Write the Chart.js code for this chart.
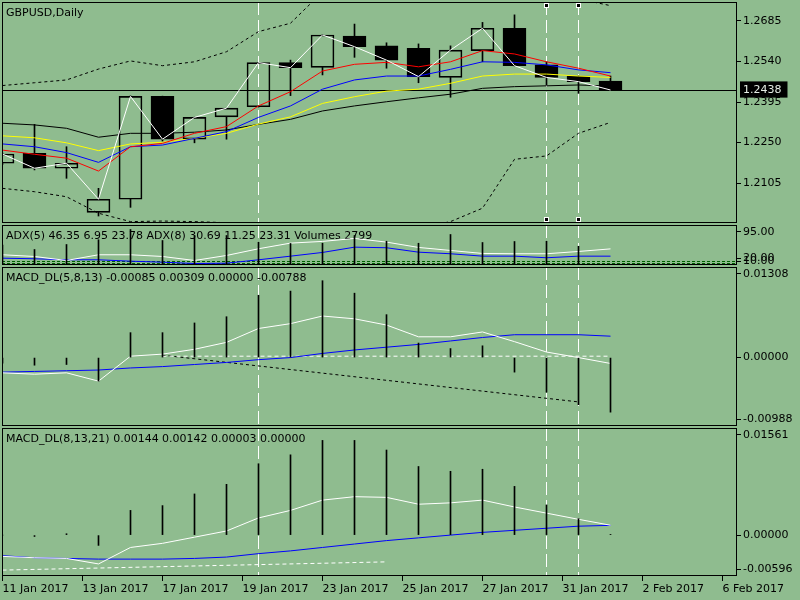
<!DOCTYPE html>
<html>
<head>
<meta charset="utf-8">
<title>GBPUSD,Daily</title>
<script src="https://cdn.jsdelivr.net/npm/chart.js@4.4.1/dist/chart.umd.min.js"></script>
<style>
  html, body { margin: 0; padding: 0; background: #8fbc8f; }
  body { width: 800px; height: 600px; position: relative; overflow: hidden; }
  canvas { position: absolute; left: 0; }
</style>
</head>
<body>
<canvas id="main" width="800" height="225" style="top:0"></canvas>
<canvas id="adx" width="800" height="42" style="top:224px"></canvas>
<canvas id="macd1" width="800" height="163" style="top:265px"></canvas>
<canvas id="macd2" width="800" height="173" style="top:427px"></canvas>
<script>
// price bars (20 daily candles)
const opens  = [1.2176, 1.2211, 1.2158, 1.2000, 1.2047, 1.2415, 1.2262, 1.2342, 1.2378, 1.2536, 1.2519, 1.2631, 1.2596, 1.2587, 1.2483, 1.2579, 1.2659, 1.2528, 1.2488, 1.2470];
const highs  = [1.2212, 1.2315, 1.2235, 1.2086, 1.2417, 1.2416, 1.2341, 1.2373, 1.2537, 1.2545, 1.2636, 1.2674, 1.2607, 1.2603, 1.2596, 1.2680, 1.2707, 1.2539, 1.2489, 1.2488];
const lows   = [1.2172, 1.2152, 1.2122, 1.1987, 1.2018, 1.2255, 1.2249, 1.2262, 1.2377, 1.2418, 1.2492, 1.2555, 1.2516, 1.2464, 1.2412, 1.2539, 1.2524, 1.2456, 1.2426, 1.2437];
const closes = [1.2209, 1.2158, 1.2176, 1.2047, 1.2415, 1.2262, 1.2340, 1.2373, 1.2536, 1.2518, 1.2635, 1.2593, 1.2545, 1.2486, 1.2581, 1.2659, 1.2525, 1.2483, 1.2468, 1.2438];

// moving averages and bands
const maRed    = [1.2223, 1.2208, 1.2194, 1.2148, 1.2235, 1.2247, 1.2283, 1.2307, 1.2381, 1.2432, 1.2506, 1.2530, 1.2537, 1.2521, 1.2539, 1.2579, 1.2567, 1.2539, 1.2516, 1.2488];
const maBlue   = [1.2245, 1.2235, 1.2214, 1.2179, 1.2235, 1.2241, 1.2265, 1.2289, 1.2340, 1.2381, 1.2441, 1.2474, 1.2488, 1.2488, 1.2512, 1.2539, 1.2537, 1.2528, 1.2510, 1.2500];
const maYellow = [1.2274, 1.2267, 1.2249, 1.2221, 1.2245, 1.2251, 1.2265, 1.2283, 1.2316, 1.2342, 1.2390, 1.2414, 1.2434, 1.2441, 1.2462, 1.2488, 1.2495, 1.2495, 1.2488, 1.2483];
const maBlack  = [1.2319, 1.2313, 1.2301, 1.2269, 1.2283, 1.2283, 1.2287, 1.2295, 1.2315, 1.2333, 1.2363, 1.2381, 1.2396, 1.2410, 1.2423, 1.2444, 1.2450, 1.2453, 1.2456, 1.2452];
const bandUpper = [1.2454, 1.2464, 1.2474, 1.2513, 1.2542, 1.2525, 1.2539, 1.2575, 1.2647, 1.2677, 1.2789, 1.2814, 1.2814, 1.2803, 1.2796, 1.2796, 1.2789, 1.2778, 1.2764, 1.2740];
const bandLower = [1.2086, 1.2074, 1.2056, 1.1997, 1.1967, 1.1969, 1.1967, 1.1963, 1.1944, 1.1930, 1.1919, 1.1919, 1.1930, 1.1944, 1.1967, 1.2015, 1.2190, 1.2202, 1.2283, 1.2322];

// ADX / volumes pane
const volumes = [80000, 62000, 82000, 101000, 142000, 98000, 118000, 118000, 91000, 86000, 87000, 118000, 95000, 87000, 122000, 90000, 94000, 95000, 75000, 2799];
const adx5 = [29.4, 24.5, 13.0, 29.4, 29.4, 24.5, 13.0, 27.4, 46.7, 62.9, 67.8, 76.4, 65.8, 50.5, 41.8, 33.2, 32.3, 32.3, 38.9, 46.35];
const adx8 = [19.6, 17.9, 15.0, 15.0, 11.0, 8.1, 4.3, 5.2, 15.0, 25.4, 36.1, 51.3, 49.6, 36.9, 32.3, 25.4, 25.4, 20.8, 25.4, 25.4];
const adxLevels = [10, 3.5];

// MACD_DL(5,8,13)
const macd1Hist   = [-0.0008, -0.0011, -0.0010, -0.0034, 0.0036, 0.0036, 0.0050, 0.0059, 0.0090, 0.0096, 0.0111, 0.0093, 0.0062, 0.0021, 0.0013, 0.0017, -0.0021, -0.0050, -0.0068, -0.00788];
const macd1Main   = [-0.0022, -0.0024, -0.0022, -0.0034, 0.0002, 0.0005, 0.0012, 0.0022, 0.0042, 0.0049, 0.0060, 0.0056, 0.0047, 0.0030, 0.0030, 0.0037, 0.0023, 0.0008, 0.0000, -0.00085];
const macd1Signal = [-0.0021, -0.0020, -0.0019, -0.0018, -0.0015, -0.0013, -0.0010, -0.0007, -0.0003, 0.0000, 0.0006, 0.0011, 0.0015, 0.0019, 0.0024, 0.0029, 0.0033, 0.0033, 0.0033, 0.00309];
const macd1LevelBars = [5, 19];
const macd1LevelVals = [0.0002, 0.0002];
const macd1TrendBars = [5, 18];
const macd1TrendVals = [0.00035, -0.0064];

// MACD_DL(8,13,21)
const macd2Hist   = [0.0000, -0.0002, 0.0002, -0.0015, 0.0036, 0.0043, 0.0060, 0.0074, 0.0104, 0.0117, 0.0138, 0.0138, 0.0124, 0.0100, 0.0093, 0.0096, 0.0071, 0.0044, 0.0024, 0.0001];
const macd2Main   = [-0.0031, -0.0033, -0.0034, -0.0042, -0.0018, -0.0012, -0.0003, 0.0006, 0.0025, 0.0036, 0.0051, 0.0056, 0.0055, 0.0045, 0.0047, 0.0051, 0.0041, 0.0032, 0.0023, 0.00144];
const macd2Signal = [-0.0030, -0.0033, -0.0034, -0.0035, -0.0035, -0.0035, -0.0034, -0.0032, -0.0027, -0.0023, -0.0018, -0.0013, -0.0008, -0.0004, 0.0000, 0.0004, 0.0007, 0.0010, 0.0013, 0.00142];
const macd2LevelBars = [0, 12];
const macd2LevelVals = [-0.0051, -0.0039];

// axes
const tickLabels = ['11 Jan 2017', '13 Jan 2017', '17 Jan 2017', '19 Jan 2017', '23 Jan 2017', '25 Jan 2017', '27 Jan 2017', '31 Jan 2017', '2 Feb 2017', '6 Feb 2017'];
const priceTicks = [1.2685, 1.2540, 1.2395, 1.2250, 1.2105];
const adxTicks = [95, 20, 10];
const macd1Ticks = [0.01308, 0, -0.00988];
const macd2Ticks = [0.01561, 0, -0.00596];
const markedBars = [8, 17, 18];
const selectedBars = [17, 18];

const lastPrice = closes[closes.length - 1];

const FONT = '"DejaVu Sans", Verdana, sans-serif';
Chart.defaults.font.family = FONT;
Chart.defaults.font.size = 11;
Chart.defaults.color = '#000';

const xMin = -1 / 64, xMax = xMin + 735 / 32;

const pts = arr => arr.map((v, i) => ({ x: i, y: v }));
const seg = (bars, vals) => bars.map((b, k) => ({ x: b, y: vals[k] }));
const line = (data, color, extra) => Object.assign({
  type: 'line', data, borderColor: color, borderWidth: 1, pointRadius: 0, tension: 0, fill: false
}, extra);
const sticks = (data, extra) => Object.assign({
  type: 'bar', data, backgroundColor: '#000', borderWidth: 0, barThickness: 1, grouped: false
}, extra);

// draws level lines, marked verticals, the pane title and frame
const panePlugin = {
  id: 'pane',
  beforeDatasetsDraw(chart, args, o) {
    const { ctx, chartArea: a } = chart;
    const xs = chart.scales.x, ys = chart.scales.y;
    ctx.save();
    ctx.beginPath();
    ctx.rect(a.left, a.top, a.width, a.height);
    ctx.clip();
    ctx.lineWidth = 1;
    (o.levels || []).forEach(lv => {
      const py = Math.floor(ys.getPixelForValue(lv.value)) + 0.5;
      ctx.strokeStyle = lv.color;
      ctx.setLineDash(lv.dash || []);
      ctx.beginPath();
      ctx.moveTo(a.left, py);
      ctx.lineTo(a.right, py);
      ctx.stroke();
    });
    ctx.strokeStyle = '#fff';
    ctx.setLineDash([13, 5]);
    markedBars.forEach(b => {
      const px = Math.floor(xs.getPixelForValue(b)) + 0.5;
      ctx.beginPath();
      ctx.moveTo(px, a.top);
      ctx.lineTo(px, a.bottom);
      ctx.stroke();
    });
    ctx.setLineDash([]);
    ctx.fillStyle = '#000';
    ctx.font = '11px ' + FONT;
    ctx.textBaseline = 'middle';
    ctx.fillText(o.title, a.left + 4, a.top + 11);
    ctx.restore();
  },
  afterDatasetsDraw(chart, args, o) {
    const { ctx, chartArea: a } = chart;
    const xs = chart.scales.x;
    ctx.save();
    if (o.handles) {
      selectedBars.forEach(b => {
        const px = Math.floor(xs.getPixelForValue(b));
        [a.top + 1, a.bottom - 6].forEach(py => {
          ctx.fillStyle = '#fff';
          ctx.fillRect(px - 2, py, 5, 5);
          ctx.fillStyle = '#000';
          ctx.fillRect(px - 1, py + 1, 3, 3);
        });
      });
    }
    ctx.strokeStyle = '#000';
    ctx.lineWidth = 1;
    ctx.strokeRect(a.left + 0.5, a.top + 0.5, a.width - 1, a.height - 1);
    ctx.restore();
  }
};
Chart.register(panePlugin);

function xAxis(show) {
  const axis = {
    type: 'linear', min: xMin, max: xMax, bounds: 'data', offset: false, display: show,
    grid: { offset: false, drawOnChartArea: false, tickLength: 5, color: '#000' },
    border: { display: false },
    ticks: { align: 'start', maxRotation: 0, minRotation: 0, autoSkip: false, padding: 2, color: '#000',
             callback: (v, i) => tickLabels[i] },
    afterBuildTicks: s => { s.ticks = tickLabels.map((_, k) => ({ value: k * 2.5 })); }
  };
  if (show) {
    axis.afterFit = s => { s.height = 24; s.paddingLeft = 0; s.paddingRight = 0; };
  }
  return axis;
}

function yAxis(min, max, tickValues, fmt, extraTicks, extraGrid) {
  return {
    type: 'linear', position: 'right', min, max, bounds: 'data',
    grid: Object.assign({ drawOnChartArea: false, tickLength: 4, color: '#000' }, extraGrid),
    border: { display: false },
    ticks: Object.assign({ autoSkip: false, padding: 2, color: '#000', callback: fmt }, extraTicks),
    afterBuildTicks: s => { s.ticks = tickValues(s).map(v => ({ value: v })); },
    afterFit: s => { s.width = 63; s.paddingTop = 0; s.paddingBottom = 0; }
  };
}

function options(padding, scales, pane) {
  return {
    responsive: false, animation: false, events: [],
    layout: { padding: Object.assign({ left: 2, right: 0 }, padding) },
    plugins: { legend: { display: false }, tooltip: { enabled: false }, pane },
    scales
  };
}

// main price pane
new Chart(document.getElementById('main'), {
  type: 'bar',
  data: {
    datasets: [
      line(pts(closes), '#fff', { order: 0 }),
      line(pts(maRed), '#ff0000', { order: 1 }),
      line(pts(maBlue), '#0000ff', { order: 1 }),
      line(pts(maYellow), '#ffff00', { order: 1 }),
      line(pts(maBlack), '#000', { order: 1 }),
      line(pts(bandUpper), '#000', { order: 2, borderDash: [3, 3] }),
      line(pts(bandLower), '#000', { order: 2, borderDash: [3, 3] }),
      {
        type: 'bar', order: 3, grouped: false, barThickness: 23,
        data: closes.map((c, i) => ({ x: i, y: [opens[i], c] })),
        backgroundColor: closes.map((c, i) => c >= opens[i] ? 'rgba(0,0,0,0)' : '#000'),
        borderColor: '#000', borderWidth: 1, borderSkipped: false
      },
      sticks(closes.map((c, i) => ({ x: i, y: [Math.max(opens[i], c), highs[i]] })), { order: 4 }),
      sticks(closes.map((c, i) => ({ x: i, y: [lows[i], Math.min(opens[i], c)] })), { order: 4 })
    ]
  },
  options: options({ top: 2, bottom: 2 }, {
    x: xAxis(false),
    y: yAxis(1.1962, 1.2753, () => priceTicks.concat([lastPrice]), v => v.toFixed(4), {
      color: c => c.tick && c.tick.value === lastPrice ? '#e4ece4' : '#000',
      showLabelBackdrop: c => !!(c.tick && c.tick.value === lastPrice),
      backdropColor: '#000',
      backdropPadding: { left: 3, right: 6, top: 2, bottom: 1 }
    }, {
      tickColor: c => c.tick && c.tick.value === lastPrice ? 'rgba(0,0,0,0)' : '#000'
    })
  }, {
    title: 'GBPUSD,Daily', handles: true,
    levels: [{ value: lastPrice, color: '#000' }]
  })
});

// ADX + volumes pane
new Chart(document.getElementById('adx'), {
  type: 'bar',
  data: {
    datasets: [
      sticks(pts(volumes), { yAxisID: 'yv', order: 0 }),
      line(pts(adx5), '#fff', { order: 1 }),
      line(pts(adx8), '#0000ff', { order: 1 })
    ]
  },
  options: options({ top: 1, bottom: 1 }, {
    x: xAxis(false),
    y: yAxis(0, 115, () => adxTicks, v => v.toFixed(2)),
    yv: { type: 'linear', display: false, min: 0, max: 160000 }
  }, {
    title: 'ADX(5) 46.35 6.95 23.78 ADX(8) 30.69 11.25 23.31 Volumes 2799',
    levels: adxLevels.map(v => ({ value: v, color: '#006400', dash: [3, 2] }))
  })
});

function macdTicks(s, h) {
  const d = (s.max - s.min) * 7 / h;
  return [s.max - d, 0, s.min + d];
}

// MACD_DL(5,8,13) pane
new Chart(document.getElementById('macd1'), {
  type: 'bar',
  data: {
    datasets: [
      sticks(pts(macd1Hist), { order: 0 }),
      line(pts(macd1Main), '#fff', { order: 1 }),
      line(pts(macd1Signal), '#0000ff', { order: 1 }),
      line(seg(macd1LevelBars, macd1LevelVals), '#fff', { order: 2, borderDash: [4, 3] }),
      line(seg(macd1TrendBars, macd1TrendVals), '#000', { order: 2, borderDash: [3, 3] })
    ]
  },
  options: options({ top: 2, bottom: 2 }, {
    x: xAxis(false),
    y: yAxis(macd1Ticks[2], macd1Ticks[0], s => macdTicks(s, 159), (v, i) => macd1Ticks[i].toFixed(5))
  }, {
    title: 'MACD_DL(5,8,13) -0.00085 0.00309 0.00000 -0.00788'
  })
});

// MACD_DL(8,13,21) pane with the date axis
new Chart(document.getElementById('macd2'), {
  type: 'bar',
  data: {
    datasets: [
      sticks(pts(macd2Hist), { order: 0 }),
      line(pts(macd2Main), '#fff', { order: 1 }),
      line(pts(macd2Signal), '#0000ff', { order: 1 }),
      line(seg(macd2LevelBars, macd2LevelVals), '#fff', { order: 2, borderDash: [4, 3] })
    ]
  },
  options: options({ top: 1, bottom: 0 }, {
    x: xAxis(true),
    y: yAxis(macd2Ticks[2], macd2Ticks[0], s => macdTicks(s, 148), (v, i) => macd2Ticks[i].toFixed(5))
  }, {
    title: 'MACD_DL(8,13,21) 0.00144 0.00142 0.00003 0.00000'
  })
});
</script>
</body>
</html>
